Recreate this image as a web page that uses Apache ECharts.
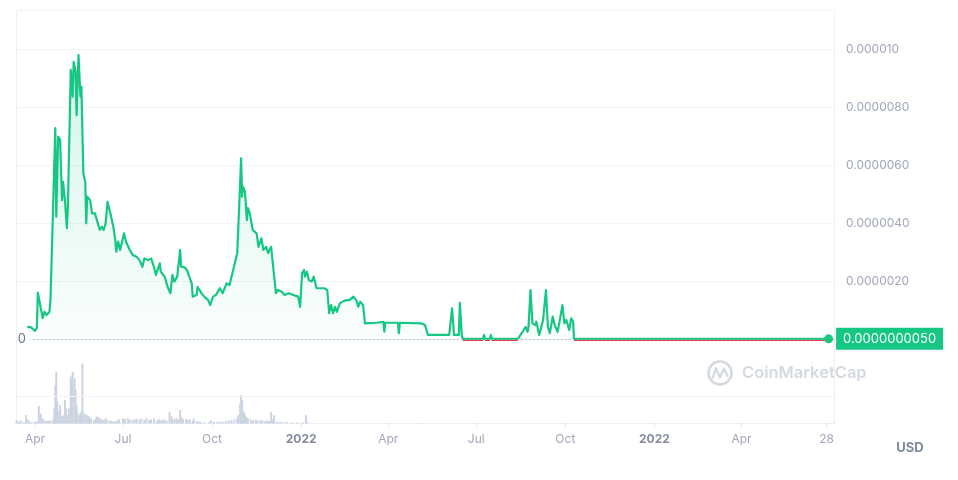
<!DOCTYPE html>
<html><head><meta charset="utf-8">
<script src="https://cdn.jsdelivr.net/npm/echarts@6/dist/echarts.min.js"></script>
<style>html,body{margin:0;padding:0;background:#fff}#chart{width:958px;height:480px}</style>
</head><body><div id="chart"></div>
<script>
// ---- data (price in micro-USD, i.e. value x 1e-6 USD) ----
const priceDates = ['2021-03-24','2021-03-28','2021-04-01','2021-04-03','2021-04-04','2021-04-07','2021-04-09','2021-04-11','2021-04-13','2021-04-16','2021-04-17','2021-04-19','2021-04-22','2021-04-23','2021-04-25','2021-04-27','2021-04-29','2021-04-30',
'2021-05-02','2021-05-04','2021-05-05','2021-05-07','2021-05-08','2021-05-10','2021-05-11','2021-05-13','2021-05-14','2021-05-16','2021-05-18','2021-05-19','2021-05-20','2021-05-21','2021-05-23','2021-05-24','2021-05-25','2021-05-28','2021-05-30',
'2021-06-02','2021-06-04','2021-06-07','2021-06-09','2021-06-11','2021-06-13','2021-06-15','2021-06-18','2021-06-21','2021-06-23','2021-06-24','2021-06-26','2021-06-28',
'2021-07-02','2021-07-04','2021-07-08','2021-07-11','2021-07-15','2021-07-18','2021-07-21','2021-07-23','2021-07-27','2021-07-30',
'2021-08-02','2021-08-04','2021-08-08','2021-08-09','2021-08-13','2021-08-16','2021-08-19','2021-08-21','2021-08-23','2021-08-26','2021-08-29','2021-08-30',
'2021-09-02','2021-09-05','2021-09-07','2021-09-10','2021-09-11','2021-09-15','2021-09-16','2021-09-20','2021-09-23','2021-09-27','2021-09-29',
'2021-10-02','2021-10-05','2021-10-09','2021-10-12','2021-10-16','2021-10-19','2021-10-22','2021-10-24','2021-10-27','2021-10-29','2021-10-31',
'2021-11-01','2021-11-02','2021-11-04','2021-11-06','2021-11-07','2021-11-09','2021-11-12','2021-11-13','2021-11-16','2021-11-18','2021-11-21','2021-11-23','2021-11-26','2021-11-28',
'2021-12-01','2021-12-03','2021-12-06','2021-12-08','2021-12-12','2021-12-15','2021-12-19','2021-12-24','2021-12-29','2021-12-31',
'2022-01-02','2022-01-04','2022-01-05','2022-01-07','2022-01-09','2022-01-12','2022-01-14','2022-01-17','2022-01-25','2022-01-28','2022-01-30',
'2022-02-01','2022-02-03','2022-02-05','2022-02-07','2022-02-10','2022-02-13','2022-02-17','2022-02-20','2022-02-24','2022-02-27',
'2022-03-01','2022-03-03','2022-03-06','2022-03-08','2022-03-20','2022-03-27','2022-03-28','2022-03-29',
'2022-04-11','2022-04-12','2022-04-13','2022-05-05','2022-05-09','2022-05-12',
'2022-06-03','2022-06-05','2022-06-06','2022-06-08','2022-06-13','2022-06-14','2022-06-16','2022-06-17',
'2022-07-08','2022-07-09','2022-07-10','2022-07-15','2022-07-16','2022-07-17',
'2022-08-13','2022-08-14','2022-08-19','2022-08-21','2022-08-23','2022-08-24','2022-08-26','2022-08-28','2022-08-29','2022-08-31',
'2022-09-01','2022-09-04','2022-09-08','2022-09-11','2022-09-13','2022-09-15','2022-09-18','2022-09-20','2022-09-23','2022-09-25','2022-09-28','2022-09-30',
'2022-10-02','2022-10-05','2022-10-07','2022-10-09','2022-10-10','2023-06-30'];
const priceMicroUsd = [0.42,0.40,0.28,0.38,1.60,1.07,0.72,0.94,0.83,0.94,1.34,3.66,7.27,4.22,6.98,6.86,4.79,5.42,
4.79,3.82,4.56,7.67,9.28,8.36,9.56,9.22,7.72,9.79,8.36,8.70,8.64,5.71,5.42,3.99,4.91,4.79,4.33,
4.33,4.10,3.76,3.87,3.76,3.99,4.73,4.33,3.87,3.41,3.01,3.36,3.07,
3.64,3.36,3.07,2.90,2.84,2.72,2.49,2.78,2.72,2.78,
2.49,2.21,2.61,2.32,2.15,1.80,1.58,2.21,1.98,2.15,3.07,2.49,
2.49,2.38,2.38,1.92,1.46,1.52,1.80,1.58,1.46,1.34,1.17,
1.46,1.52,1.75,1.58,1.92,1.86,2.27,2.32,2.96,4.56,6.23,
4.91,5.25,5.08,4.10,4.51,4.33,3.76,3.82,3.64,3.18,3.47,3.07,3.18,2.96,
3.18,3.13,1.58,1.69,1.63,1.52,1.58,1.52,1.46,1.11,
2.27,2.38,2.15,2.32,2.03,1.98,2.15,1.75,1.75,1.69,0.89,
1.17,0.89,1.11,0.94,1.23,1.29,1.34,1.34,1.46,1.34,
1.11,1.29,1.17,0.54,0.56,0.59,0.25,0.56,
0.56,0.20,0.56,0.54,0.48,0.14,
0.14,0.14,1.06,0.14,0.14,1.25,0.14,0.005,
0.005,0.14,0.005,0.005,0.14,0.005,
0.005,0.03,0.31,0.42,0.25,0.42,1.69,0.54,0.60,0.48,
0.60,0.14,0.66,1.69,0.42,0.20,0.77,0.48,0.25,0.60,1.17,0.54,
0.66,0.31,0.71,0.60,0.005,0.005];

const volumeDates = ['2021-03-13','2021-03-15','2021-03-17','2021-03-19','2021-03-21','2021-03-23','2021-03-25','2021-03-27','2021-03-29','2021-04-01','2021-04-03','2021-04-05','2021-04-07','2021-04-09','2021-04-10','2021-04-12','2021-04-14','2021-04-15','2021-04-17','2021-04-20','2021-04-21','2021-04-22','2021-04-23','2021-04-24','2021-04-26','2021-04-27','2021-04-28','2021-04-29','2021-04-30',
'2021-05-02','2021-05-03','2021-05-05','2021-05-06','2021-05-08','2021-05-09','2021-05-10','2021-05-12','2021-05-13','2021-05-14','2021-05-15','2021-05-17','2021-05-18','2021-05-19','2021-05-20','2021-05-22','2021-05-23','2021-05-25','2021-05-26','2021-05-27','2021-05-29',
'2021-06-01','2021-06-03','2021-06-04','2021-06-06','2021-06-07','2021-06-09','2021-06-11','2021-06-13','2021-06-14','2021-06-17','2021-06-19','2021-06-21','2021-06-23','2021-06-25','2021-06-27',
'2021-07-01','2021-07-03','2021-07-06','2021-07-08','2021-07-11','2021-07-13','2021-07-15','2021-07-18','2021-07-20','2021-07-23','2021-07-25','2021-07-28','2021-07-30',
'2021-08-02','2021-08-05','2021-08-07','2021-08-09','2021-08-11','2021-08-13','2021-08-15','2021-08-18','2021-08-20','2021-08-21','2021-08-23','2021-08-25','2021-08-27','2021-08-29','2021-08-31',
'2021-09-01','2021-09-04','2021-09-06','2021-09-08','2021-09-11','2021-09-12','2021-09-15','2021-09-17','2021-09-19','2021-09-23','2021-09-28','2021-09-30',
'2021-10-03','2021-10-06','2021-10-09','2021-10-12','2021-10-15','2021-10-18','2021-10-21','2021-10-24','2021-10-27','2021-10-28','2021-10-30','2021-10-31',
'2021-11-01','2021-11-03','2021-11-04','2021-11-06','2021-11-07','2021-11-10','2021-11-12','2021-11-15','2021-11-17','2021-11-20','2021-11-22','2021-11-25','2021-11-27','2021-11-29',
'2021-12-01','2021-12-03','2021-12-04','2021-12-07','2021-12-10','2021-12-13','2021-12-17','2021-12-22','2021-12-28',
'2022-01-03','2022-01-06','2022-01-07','2022-05-05'];
const volumeValues = [11,6,11,4,4,31,13,6,4,6,7,65,37,19,11,9,11,9,11,15,56,142,192,81,44,68,26,22,30,
87,56,31,56,174,161,192,167,124,67,37,30,37,44,222,37,33,31,22,26,19,
13,19,26,22,19,15,13,19,15,11,9,7,9,11,15,
19,17,19,15,13,15,17,15,19,13,19,13,15,
19,11,17,11,15,13,11,44,26,19,15,19,15,50,22,
15,17,13,15,11,19,9,7,7,4,6,11,
6,6,7,7,9,11,13,15,19,31,74,105,
87,44,31,22,19,15,13,15,11,13,11,9,11,9,
44,15,31,7,6,6,6,4,4,
4,31,7,2];

const xTickDates = ['2021-04-01','2021-07-01','2021-10-01','2022-01-01','2022-04-01','2022-07-01','2022-10-01','2023-01-01','2023-04-01','2023-06-28'];
const xTickLabels = ['Apr','Jul','Oct','2022','Apr','Jul','Oct','2022','Apr','28'];
const xRange = ['2021-03-12 10:00','2023-07-06 15:00'];
const baselineValue = 0;
const baselineStart = '2021-03-30';
const baselineLabel = '0';
const currencyLabel = 'USD';
const watermarkText = 'CoinMarketCap';

// ---- build ----
const ts = s => {
  const m = s.match(/^(\d{4})-(\d{2})-(\d{2})(?: (\d{2}):(\d{2}))?$/);
  return Date.UTC(+m[1], +m[2] - 1, +m[3], m[4] ? +m[4] : 0, m[5] ? +m[5] : 0);
};
const priceUsd = priceMicroUsd.map(v => v * 1e-6);
const priceData = priceDates.map((d, i) => [ts(d), priceUsd[i]]);
const flatThreshold = 1e-8;
const belowData = priceDates.map((d, i) => [ts(d), priceUsd[i] < flatThreshold ? priceUsd[i] : '-']);
const volumeData = volumeDates.map((d, i) => [ts(d), volumeValues[i]]);
const xTickTs = xTickDates.map(ts);
const xMin = ts(xRange[0]), xMax = ts(xRange[1]);
const lastIdx = priceData.length - 1;
const lastValue = priceUsd[lastIdx];
const priceMax = 0.0000113448;

const GREEN = '#16c784', RED = '#ea3943';
const labelColor = '#a1a7bb';
const FONT = 'Inter';

const chart = echarts.init(document.getElementById('chart'), null, {renderer: 'canvas'});
chart.setOption({
  animation: false,
  backgroundColor: '#ffffff',
  grid: [
    {left: 16, right: 123, top: 10, bottom: 141, outerBoundsMode: 'none', containLabel: false},
    {left: 16, right: 123, top: 342.5, bottom: 56.5, outerBoundsMode: 'none', containLabel: false},
    {left: 16, right: 123, top: 11.3, bottom: 139.7, outerBoundsMode: 'none', containLabel: false}
  ],
  xAxis: [
    {type: 'value', gridIndex: 0, min: xMin, max: xMax, show: false, scale: true},
    {type: 'value', gridIndex: 1, min: xMin, max: xMax, scale: true,
     axisLine: {show: true, lineStyle: {color: '#eceff3', width: 1}},
     axisTick: {show: true, customValues: xTickTs, length: 4, lineStyle: {color: '#e3e7ee'}},
     splitLine: {show: false},
     axisLabel: {
       customValues: xTickTs, margin: 10, color: labelColor, fontSize: 12, fontFamily: FONT,
       formatter: function (value) {
         let best = 0, bd = Infinity;
         xTickTs.forEach((t, i) => { const d = Math.abs(t - value); if (d < bd) { bd = d; best = i; } });
         const s = xTickLabels[best];
         return /^\d{4}$/.test(s) ? '{y|' + s + '}' : s;
       },
       rich: {y: {fontWeight: 'bold', color: '#858ca2', fontSize: 12, fontFamily: FONT}}
     }},
    {type: 'value', gridIndex: 2, min: xMin, max: xMax, show: false, scale: true}
  ],
  yAxis: [
    {type: 'value', gridIndex: 0, position: 'right', min: 0, max: priceMax, interval: 0.000002,
     axisLine: {show: false}, axisTick: {show: false},
     splitLine: {show: true, lineStyle: {color: '#f1f3f6', width: 1}},
     axisLabel: {showMinLabel: false, showMaxLabel: false, margin: 11, color: labelColor, fontSize: 12, fontFamily: FONT,
       formatter: v => Number(v).toPrecision(2)}},
    {type: 'value', gridIndex: 1, min: 0, max: 300, show: false},
    {type: 'value', gridIndex: 2, min: 0, max: priceMax, show: false}
  ],
  graphic: [
    {type: 'rect', silent: true, z: -10, shape: {x: 16.5, y: 10.5, width: 818, height: 413}, style: {fill: 'none', stroke: '#eceff3', lineWidth: 1}},
    {type: 'circle', silent: true, z: -5, shape: {cx: 720, cy: 373, r: 11.5}, style: {fill: 'none', stroke: '#d4d9e3', lineWidth: 2.6}},
    {type: 'polyline', silent: true, z: -5, shape: {points: [[712.5, 378], [716, 368.5], [720, 377.5], [724, 368.5], [727.5, 376]]}, style: {fill: 'none', stroke: '#d4d9e3', lineWidth: 2.4, lineJoin: 'round', lineCap: 'round'}},
    {type: 'text', silent: true, z: -5, x: 742, y: 373.5, style: {text: watermarkText, font: '600 16.5px Inter', fill: '#d4d9e3', verticalAlign: 'middle', align: 'left'}},
    {type: 'text', silent: true, x: 910, y: 448, style: {text: currencyLabel, font: 'bold 13px Inter', fill: '#808a9d', verticalAlign: 'middle', align: 'center'}}
  ],
  series: [
    {
      name: 'below', type: 'line', xAxisIndex: 2, yAxisIndex: 2, data: belowData,
      symbol: 'none', showSymbol: false, connectNulls: false, z: 2, silent: true,
      lineStyle: {color: RED, width: 1.6}
    },
    {
      name: 'price', type: 'line', xAxisIndex: 0, yAxisIndex: 0, data: priceData,
      symbol: 'none', showSymbol: false, z: 3, silent: true,
      lineStyle: {color: GREEN, width: 2.2, join: 'round'},
      itemStyle: {color: GREEN},
      areaStyle: {origin: 'start', color: new echarts.graphic.LinearGradient(0, 0, 0, 1, [
        {offset: 0, color: 'rgba(22,199,132,0.26)'},
        {offset: 1, color: 'rgba(22,199,132,0.03)'}
      ])},
      markLine: {
        silent: true, symbol: ['none', 'none'], animation: false,
        lineStyle: {type: [1.5, 2.5], color: '#aab2c2', width: 1},
        label: {show: true, position: 'start', formatter: baselineLabel, color: '#6b7488', fontSize: 13, fontFamily: FONT, distance: 7},
        data: [[{coord: [ts(baselineStart), baselineValue]}, {coord: [xMax, baselineValue]}]]
      },
      markPoint: {
        silent: true, symbol: 'circle', symbolSize: 9, animation: false,
        itemStyle: {color: GREEN},
        label: {show: true, position: 'right', distance: 3, formatter: lastValue.toFixed(10),
          color: '#ffffff', backgroundColor: GREEN, padding: [4, 7, 4, 7], fontSize: 13, lineHeight: 14, fontFamily: FONT},
        data: [{coord: [priceData[lastIdx][0], lastValue]}]
      }
    },
    {
      name: 'volume', type: 'bar', xAxisIndex: 1, yAxisIndex: 1, data: volumeData,
      barWidth: 2, silent: true, itemStyle: {color: '#cdd4e1'},
      markLine: {
        silent: true, symbol: ['none', 'none'], animation: false, label: {show: false},
        lineStyle: {color: '#eff1f4', type: 'solid', width: 1},
        data: [{yAxis: 100}]
      }
    }
  ]
});
</script>
</body></html>
